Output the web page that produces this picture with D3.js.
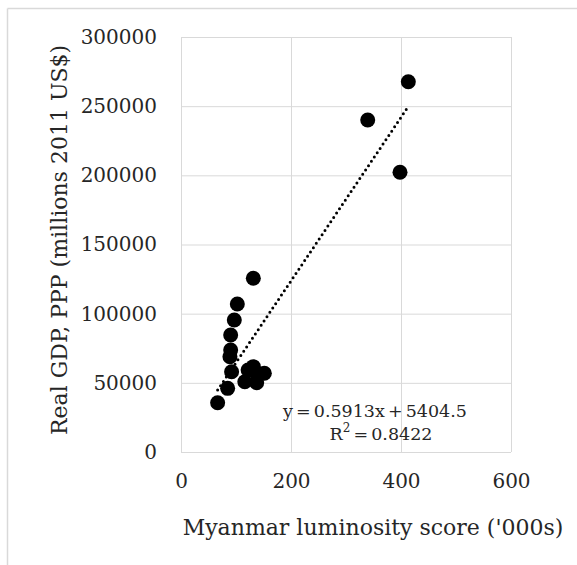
<!DOCTYPE html>
<html>
<head>
<meta charset="utf-8">
<script src="https://cdn.jsdelivr.net/npm/d3@7"></script>
<style>
  html, body { margin: 0; padding: 0; background: #fff; }
  svg { display: block; }
</style>
</head>
<body>
<div class="chart"></div>
<script>
const WIDTH = 577;
const HEIGHT = 565;
const FONT = "'DejaVu Serif', serif";

// luminosity score ('000s) and real GDP, PPP (millions 2011 US$)
const luminosity = [66.6, 84.8, 89, 90.3, 90.3, 92, 96.9, 102.4, 116, 122, 131.5, 134.5, 137.6, 151.5, 131.5, 339.5, 398.2, 413.3];
const gdp = [35600, 46000, 68900, 73700, 84600, 58000, 95400, 107000, 50800, 59300, 61700, 58000, 50100, 56900, 125600, 240000, 202200, 267700];

const xTicks = [0, 200, 400, 600];
const yTicks = [0, 50000, 100000, 150000, 200000, 250000, 300000];

// linear trendline (x in raw units, so slope * 1000 for '000s)
const SLOPE = 0.5913;
const INTERCEPT = 5404.5;
const R2 = 0.8422;

const plot = { left: 181, right: 511, top: 37, bottom: 452 };

const svg = d3.select('.chart')
  .append('svg')
  .attr('width', WIDTH)
  .attr('height', HEIGHT);

// outer frame lines
svg.append('line')
  .attr('x1', 7.5).attr('x2', WIDTH)
  .attr('y1', 8.5).attr('y2', 8.5)
  .style('stroke', '#d9d9d9')
  .style('stroke-width', 1.5);
svg.append('line')
  .attr('x1', 7.5).attr('x2', 7.5)
  .attr('y1', 8.5).attr('y2', HEIGHT)
  .style('stroke', '#d9d9d9')
  .style('stroke-width', 1.5);

const x = d3.scaleLinear().domain([0, 600]).range([plot.left, plot.right]);
const y = d3.scaleLinear().domain([0, 300000]).range([plot.bottom, plot.top]);

// gridlines
svg.append('g')
  .selectAll('line.v')
  .data(xTicks)
  .enter()
  .append('line')
  .attr('x1', (d) => x(d) + 0.5)
  .attr('x2', (d) => x(d) + 0.5)
  .attr('y1', plot.top)
  .attr('y2', plot.bottom)
  .style('stroke', '#d9d9d9');

svg.append('g')
  .selectAll('line.h')
  .data(yTicks)
  .enter()
  .append('line')
  .attr('x1', plot.left)
  .attr('x2', plot.right)
  .attr('y1', (d) => y(d) + 0.5)
  .attr('y2', (d) => y(d) + 0.5)
  .style('stroke', '#d9d9d9');

// axes (labels only, no domain)
const xAxis = svg.append('g')
  .attr('transform', `translate(0, ${plot.bottom})`)
  .call(d3.axisBottom(x).tickValues(xTicks).tickSize(0).tickPadding(22));
const yAxis = svg.append('g')
  .attr('transform', `translate(${plot.left}, 0)`)
  .call(d3.axisLeft(y).tickValues(yTicks).tickSize(0).tickPadding(24).tickFormat(d3.format('d')));

[xAxis, yAxis].forEach((axis) => {
  axis.select('.domain').remove();
  axis.selectAll('text')
    .style('font-family', FONT)
    .style('font-size', '20px')
    .style('fill', '#262626');
});

// trendline
const xMin = d3.min(luminosity);
const xMax = d3.max(luminosity);
const trend = (v) => SLOPE * 1000 * v + INTERCEPT;
svg.append('line')
  .attr('x1', x(xMin))
  .attr('y1', y(trend(xMin)))
  .attr('x2', x(xMax))
  .attr('y2', y(trend(xMax)))
  .style('stroke', '#000')
  .style('stroke-width', 3)
  .style('stroke-linecap', 'round')
  .style('stroke-dasharray', '0,5.2');

// points
svg.append('g')
  .selectAll('circle')
  .data(luminosity.map((v, i) => ({ x: v, y: gdp[i] })))
  .enter()
  .append('circle')
  .attr('cx', (d) => x(d.x))
  .attr('cy', (d) => y(d.y))
  .attr('r', 7.5)
  .style('fill', '#000');

// trendline label
const label = svg.append('text')
  .attr('x', 375)
  .attr('y', 417)
  .style('font-family', FONT)
  .style('font-size', '17.5px')
  .style('word-spacing', '-2.5px')
  .style('fill', '#262626')
  .style('text-anchor', 'middle');
label.append('tspan')
  .text(`y = ${SLOPE}x + ${INTERCEPT}`);
const r2 = label.append('tspan')
  .attr('x', 381)
  .attr('dy', 23);
r2.append('tspan').text('R');
r2.append('tspan').attr('dy', -8).style('font-size', '12px').text('2');
r2.append('tspan').attr('dy', 8).text(` = ${R2}`);

// axis titles
svg.append('text')
  .attr('x', 373)
  .attr('y', 535)
  .style('font-family', FONT)
  .style('font-size', '22px')
  .style('fill', '#262626')
  .style('text-anchor', 'middle')
  .text("Myanmar luminosity score ('000s)");

svg.append('text')
  .attr('transform', 'translate(67, 240) rotate(-90)')
  .style('font-family', FONT)
  .style('font-size', '22px')
  .style('fill', '#262626')
  .style('text-anchor', 'middle')
  .text('Real GDP, PPP (millions 2011 US$)');
</script>
</body>
</html>
